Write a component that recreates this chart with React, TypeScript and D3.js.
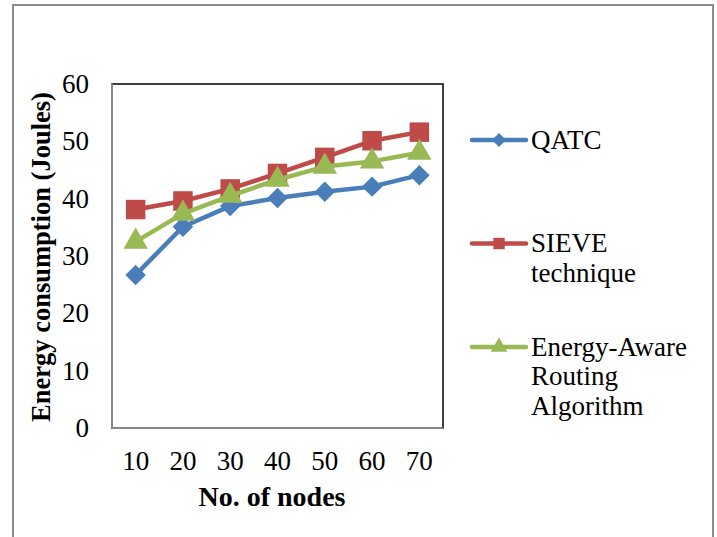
import React from 'react';
import * as d3 from 'd3';

const nodes = [10, 20, 30, 40, 50, 60, 70];
const qatc = [26.7, 35.1, 38.7, 40.1, 41.2, 42.1, 44.1];
const sieve = [38.1, 39.6, 41.7, 44.4, 47.2, 50.1, 51.6];
const energyAware = [32.5, 37.4, 40.5, 43.3, 45.6, 46.5, 48.0];
const yTicks = [0, 10, 20, 30, 40, 50, 60];

const seriesNames = [['QATC'], ['SIEVE', 'technique'], ['Energy-Aware', 'Routing', 'Algorithm']];
const seriesData = [qatc, sieve, energyAware];
const colors = ['#4A7EBB', '#BE4B48', '#98B954'];
const shapes = [d3.symbolSquare, d3.symbolSquare, d3.symbolTriangle];
const rotations = [45, 0, 0];

const plot = { left: 112, top: 84, right: 443, bottom: 428 };
const font = "'Liberation Serif', 'Times New Roman', Times, serif";

export default function App() {
    const x = d3.scaleBand<number>()
        .domain(nodes)
        .range([plot.left, plot.right]);
    const y = d3.scaleLinear()
        .domain([0, 60])
        .range([plot.bottom, plot.top]);

    const line = d3.line<number>()
        .x((d, i) => x(nodes[i])! + x.bandwidth() / 2)
        .y(d => y(d));

    const markerSize = [210, 380, 260];
    const legendSize = [100, 130, 120];
    const legendY = [140, 243.5, 347];
    const textStyle = { fontFamily: font, fontSize: 27 };

    return (
        <svg width={717} height={537} style={{ position: 'absolute', left: 0, top: 0, background: '#fff' }}>
            <rect x={0} y={0} width={717} height={537} fill="#fff" />
            {/* outer chart frame */}
            <rect x={13} y={5} width={700} height={545} fill="none" stroke="#8c8c8c" strokeWidth={2} />

            {/* plot area */}
            <rect x={plot.left} y={plot.top} width={plot.right - plot.left} height={plot.bottom - plot.top}
                fill="none" stroke="#000" strokeWidth={1.5} />
            <line x1={plot.left} x2={plot.left} y1={plot.top} y2={plot.bottom} stroke="#868686" strokeWidth={2} />
            <line x1={plot.left} x2={plot.right} y1={plot.bottom} y2={plot.bottom} stroke="#868686" strokeWidth={2} />

            {yTicks.map(t => (
                <text key={t} x={89} y={y(t) + 9} textAnchor="end"
                    style={textStyle} fill="#000">{t}</text>
            ))}
            {nodes.map(n => (
                <text key={n} x={x(n)! + x.bandwidth() / 2} y={470} textAnchor="middle"
                    style={textStyle} fill="#000">{n}</text>
            ))}

            <text x={272} y={506} textAnchor="middle" style={{ ...textStyle, fontSize: 28, fontWeight: 'bold' }}
                fill="#000">No. of nodes</text>
            <text transform="translate(50,257) rotate(-90)" textAnchor="middle"
                style={{ ...textStyle, fontSize: 26.5, fontWeight: 'bold' }} fill="#000">Energy consumption (Joules)</text>

            {seriesData.map((data, s) => (
                <g key={s}>
                    <path d={line(data)!} fill="none" stroke={colors[s]} strokeWidth={4.5} strokeLinejoin="round" />
                    {data.map((v, i) => (
                        <path key={i}
                            d={d3.symbol(shapes[s], markerSize[s])()!}
                            transform={`translate(${x(nodes[i])! + x.bandwidth() / 2},${y(v)}) rotate(${rotations[s]})`}
                            fill={colors[s]} />
                    ))}
                </g>
            ))}

            {seriesNames.map((lines, s) => (
                <g key={s}>
                    <line x1={472} x2={526} y1={legendY[s]} y2={legendY[s]} stroke={colors[s]}
                        strokeWidth={4.5} strokeLinecap="round" />
                    <path d={d3.symbol(shapes[s], legendSize[s])()!}
                        transform={`translate(499,${legendY[s]}) rotate(${rotations[s]})`} fill={colors[s]} />
                    {lines.map((l, j) => (
                        <text key={l} x={531} y={legendY[s] + 8.5 + j * 29.5}
                            style={textStyle} fill="#000">{l}</text>
                    ))}
                </g>
            ))}
        </svg>
    );
}
